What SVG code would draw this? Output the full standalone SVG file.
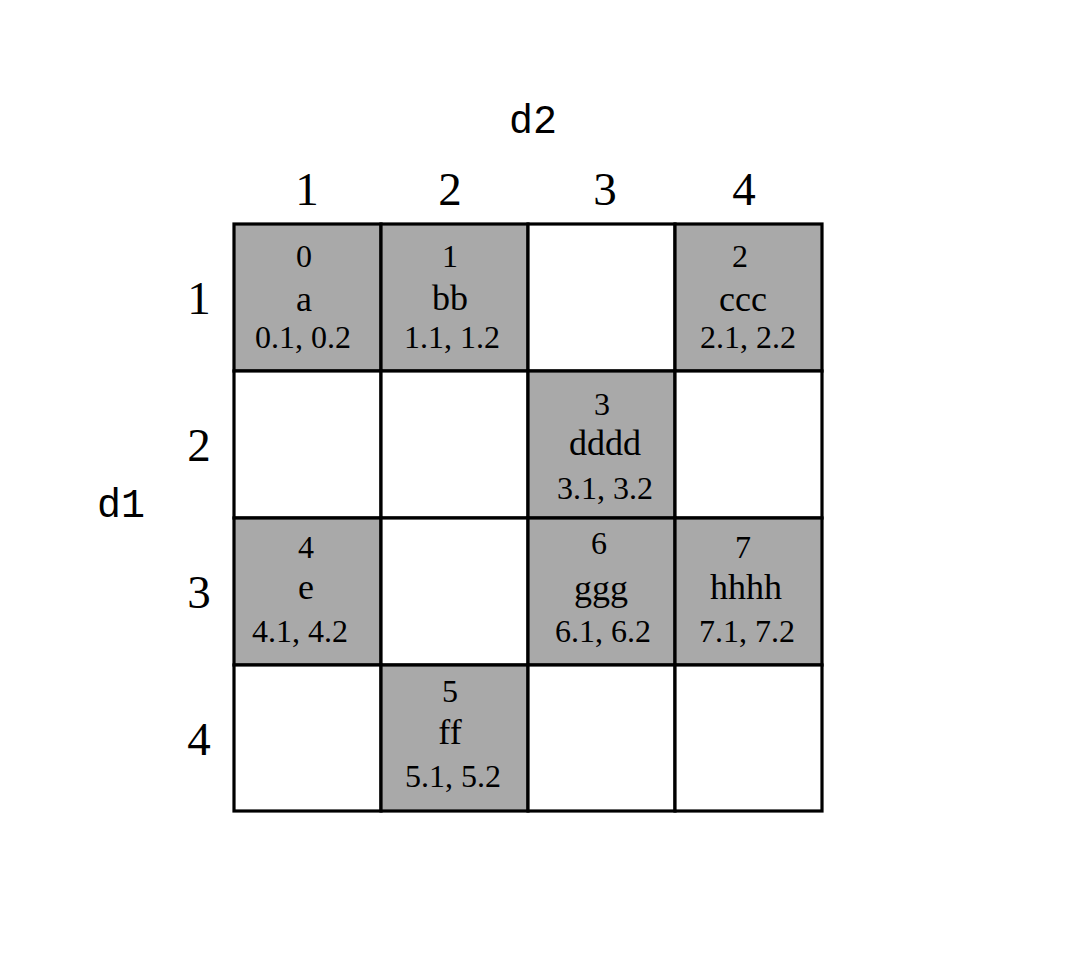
<svg xmlns="http://www.w3.org/2000/svg" width="1070" height="979" viewBox="0 0 1070 979">
<style>
.cell{stroke:#000;stroke-width:3.2}
.on{fill:#a9a9a9}
.off{fill:#fff}
.t{font-family:"Liberation Serif","DejaVu Serif",serif;text-anchor:middle;fill:#000}
.n{font-size:32px}
.l{font-size:36px}
.v{font-size:32px}
.h{font-family:"Liberation Serif","DejaVu Serif",serif;font-size:47px;text-anchor:middle;fill:#000}
.m{font-family:"Liberation Mono","DejaVu Sans Mono",monospace;font-size:40px;text-anchor:middle;fill:#000}
</style>
<rect width="1070" height="979" fill="#fff"/>
<g id="labels">
<text class="m" x="533" y="133">d2</text>
<text class="m" x="121" y="517">d1</text>
<text class="h" x="307" y="205">1</text>
<text class="h" x="450" y="205">2</text>
<text class="h" x="605" y="205">3</text>
<text class="h" x="744" y="205">4</text>
<text class="h" x="199" y="314">1</text>
<text class="h" x="199" y="461">2</text>
<text class="h" x="199" y="608">3</text>
<text class="h" x="199" y="755">4</text>
</g>
<g id="grid">
<rect class="cell on" x="234" y="224" width="147" height="147"/>
<rect class="cell on" x="381" y="224" width="147" height="147"/>
<rect class="cell off" x="528" y="224" width="147" height="147"/>
<rect class="cell on" x="675" y="224" width="147" height="147"/>
<rect class="cell off" x="234" y="371" width="147" height="147"/>
<rect class="cell off" x="381" y="371" width="147" height="147"/>
<rect class="cell on" x="528" y="371" width="147" height="147"/>
<rect class="cell off" x="675" y="371" width="147" height="147"/>
<rect class="cell on" x="234" y="518" width="147" height="147"/>
<rect class="cell off" x="381" y="518" width="147" height="147"/>
<rect class="cell on" x="528" y="518" width="147" height="147"/>
<rect class="cell on" x="675" y="518" width="147" height="147"/>
<rect class="cell off" x="234" y="665" width="147" height="146"/>
<rect class="cell on" x="381" y="665" width="147" height="146"/>
<rect class="cell off" x="528" y="665" width="147" height="146"/>
<rect class="cell off" x="675" y="665" width="147" height="146"/>
</g>
<g id="cell0"><text class="t n" x="304" y="267">0</text><text class="t l" x="304" y="311">a</text><text class="t v" x="303" y="348">0.1, 0.2</text></g>
<g id="cell1"><text class="t n" x="450" y="267">1</text><text class="t l" x="450" y="310">bb</text><text class="t v" x="452" y="348">1.1, 1.2</text></g>
<g id="cell2"><text class="t n" x="740" y="267">2</text><text class="t l" x="743" y="311">ccc</text><text class="t v" x="748" y="348">2.1, 2.2</text></g>
<g id="cell3"><text class="t n" x="602" y="415">3</text><text class="t l" x="605" y="455">dddd</text><text class="t v" x="605" y="499">3.1, 3.2</text></g>
<g id="cell4"><text class="t n" x="306" y="558">4</text><text class="t l" x="306" y="599">e</text><text class="t v" x="300" y="642">4.1, 4.2</text></g>
<g id="cell6"><text class="t n" x="599" y="554">6</text><text class="t l" x="601" y="600">ggg</text><text class="t v" x="603" y="642">6.1, 6.2</text></g>
<g id="cell7"><text class="t n" x="743" y="558">7</text><text class="t l" x="746" y="599">hhhh</text><text class="t v" x="747" y="642">7.1, 7.2</text></g>
<g id="cell5"><text class="t n" x="450" y="702">5</text><text class="t l" x="450" y="744">ff</text><text class="t v" x="453" y="787">5.1, 5.2</text></g>
</svg>
